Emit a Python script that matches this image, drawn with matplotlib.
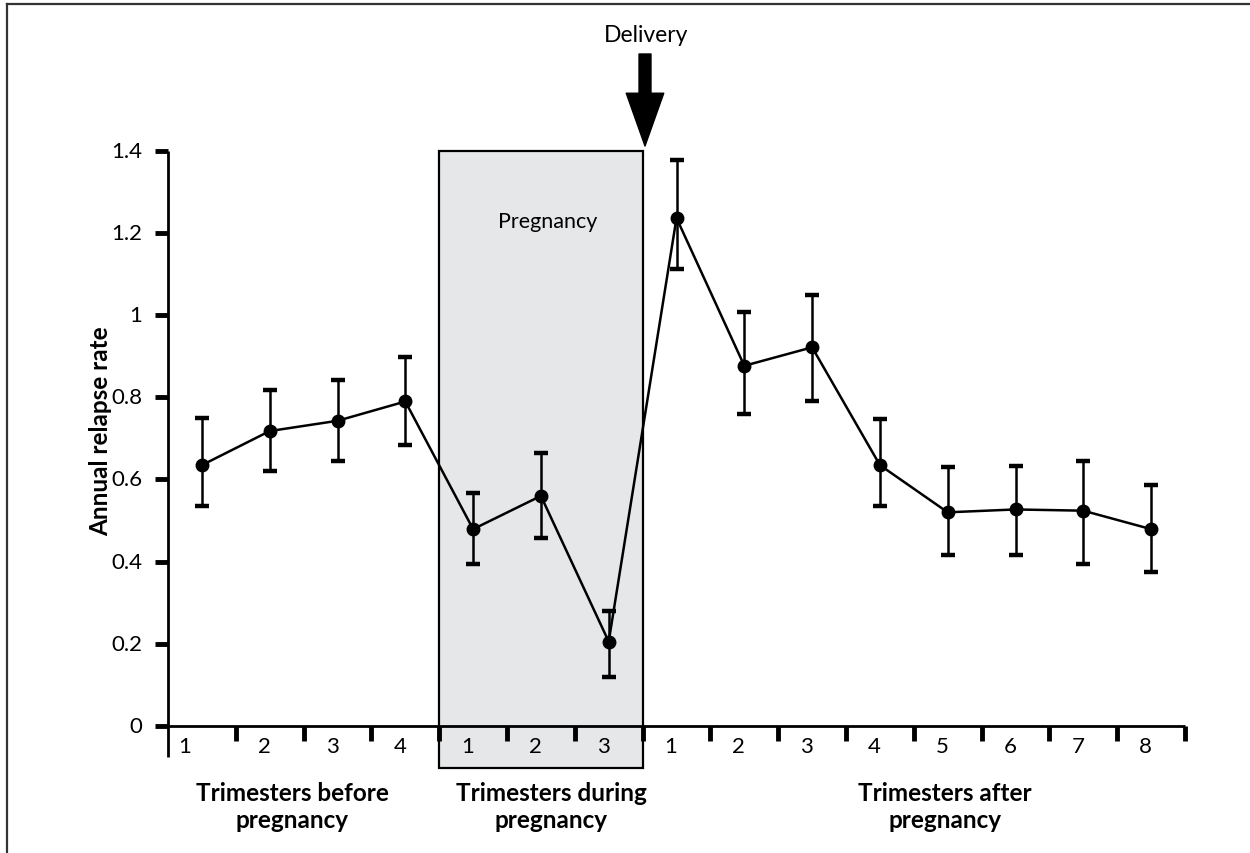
import matplotlib
matplotlib.use("Agg")
import matplotlib.pyplot as plt
from matplotlib.patches import Rectangle
from matplotlib.lines import Line2D

plt.rcParams['font.family'] = ['Lato', 'DejaVu Sans']

# data: annual relapse rate per trimester (before 4, during 3, after 8)
period_counts = [4, 3, 8]
group_titles = ["Trimesters before\npregnancy", "Trimesters during\npregnancy",
                "Trimesters after\npregnancy"]
rate = [0.635, 0.718, 0.743, 0.790, 0.479, 0.560, 0.205,
        1.237, 0.877, 0.922, 0.635, 0.520, 0.527, 0.524, 0.479]
upper = [0.750, 0.818, 0.843, 0.898, 0.566, 0.665, 0.279,
         1.378, 1.007, 1.050, 0.747, 0.630, 0.632, 0.645, 0.587]
lower = [0.535, 0.620, 0.645, 0.685, 0.394, 0.457, 0.118,
         1.113, 0.760, 0.790, 0.535, 0.415, 0.415, 0.394, 0.374]
yticks = [0, 0.2, 0.4, 0.6, 0.8, 1, 1.2, 1.4]
ytick_labels = ["0", "0.2", "0.4", "0.6", "0.8", "1", "1.2", "1.4"]

n = sum(period_counts)
xs = [i + 0.5 for i in range(n)]
xlabels = []
for c in period_counts:
    xlabels += [str(k + 1) for k in range(c)]

fig = plt.figure(figsize=(12.5, 8.54), dpi=100)
ax = fig.add_axes([0.1272, 0.0913, 0.8208, 0.7402])
ax.set_xlim(-0.133, n)
ax.set_ylim(-0.12, 1.42)
ax.axis('off')

# figure frame (top + left)
fig.add_artist(Line2D([7 / 1250, 1], [1 - 5 / 854, 1 - 5 / 854], color='#333333', lw=1.6))
fig.add_artist(Line2D([7 / 1250, 7 / 1250], [0, 1 - 5 / 854], color='#333333', lw=1.6))

# pregnancy box
start, end = period_counts[0], period_counts[0] + period_counts[1]
ax.add_patch(Rectangle((start, -0.102), end - start, 1.502, facecolor='#e6e7e8',
                       edgecolor='black', lw=1.6, zorder=1, clip_on=False))
ax.text((start + end) / 2 + 0.1, 1.23, "Pregnancy", ha='center', va='center', fontsize=15.5)

# axes lines
ax.plot([-0.133, n], [0, 0], color='black', lw=2, clip_on=False, zorder=3, solid_capstyle='butt')
ax.plot([0, 0], [-0.076, 1.4], color='black', lw=2, clip_on=False, zorder=3, solid_capstyle='butt')

# y ticks
for v, lab in zip(yticks, ytick_labels):
    ax.plot([-0.19, 0], [v, v], color='black', lw=3.5, clip_on=False, solid_capstyle='butt')
    ax.text(-0.38, v, lab, ha='right', va='center', fontsize=16)

# x ticks at trimester boundaries
for b in range(1, n + 1):
    ax.plot([b, b], [0, -0.037], color='black', lw=3.5, clip_on=False, solid_capstyle='butt', zorder=3)
for i, (x, lab) in enumerate(zip(xs, xlabels)):
    dx = -0.25 if i == 0 else -0.08
    ax.text(x + dx, -0.05, lab, ha='center', va='center', fontsize=16)

# group titles
centers = [1.83, 5.65, 11.46]
for c, t in zip(centers, group_titles):
    ax.text(c, -0.196, t, ha='center', va='center',
            fontsize=17.5, fontweight='bold', linespacing=1.2)

ax.text(-1.0, 0.72, "Annual relapse rate", rotation=90, ha='center', va='center',
        fontsize=17.5, fontweight='bold')

# data line with error bars
yerr = [[r - lo for r, lo in zip(rate, lower)], [u - r for r, u in zip(rate, upper)]]
ax.errorbar(xs, rate, yerr=yerr, fmt='-o', color='black', lw=1.8, ms=9,
            elinewidth=1.8, capsize=5, capthick=3.2, zorder=4, clip_on=False)

# delivery arrow
ax.annotate("", xy=(645, 854 - 147), xycoords='figure pixels',
            xytext=(645, 854 - 55), textcoords='figure pixels',
            arrowprops=dict(arrowstyle="simple,head_length=38,head_width=27,tail_width=8.6",
                            mutation_scale=1, color='black', shrinkA=0, shrinkB=0))
fig.text(646 / 1250, 1 - 35 / 854, "Delivery", ha='center', va='center', fontsize=16.5)

fig.savefig("out.png", dpi=100)
